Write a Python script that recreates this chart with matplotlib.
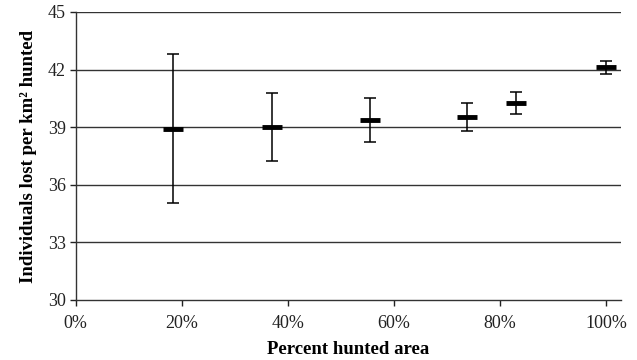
import matplotlib
matplotlib.use("Agg")
import matplotlib.pyplot as plt
from matplotlib.ticker import FuncFormatter

pct_hunted = [0.184, 0.369, 0.555, 0.738, 0.830, 1.0]
mean_lost = [38.93, 39.02, 39.38, 39.55, 40.24, 42.12]
upper = [42.81, 40.80, 40.50, 40.28, 40.83, 42.46]
lower = [35.07, 37.22, 38.25, 38.82, 39.69, 41.77]
y_ticks = [30, 33, 36, 39, 42, 45]
x_ticks = [0, 0.2, 0.4, 0.6, 0.8, 1.0]

plt.rcParams['font.family'] = ['Liberation Serif', 'DejaVu Serif']

fig = plt.figure(figsize=(6.37, 3.6), dpi=100)
ax = fig.add_axes([0.119, 0.1667, 0.856, 0.80])

for yv in y_ticks[1:]:
    ax.axhline(yv, color='#333333', lw=1.0, zorder=1)

yerr = [[m - l for m, l in zip(mean_lost, lower)], [u - m for m, u in zip(mean_lost, upper)]]
ax.errorbar(pct_hunted, mean_lost, yerr=yerr, fmt='none', ecolor='black',
            elinewidth=1.1, capsize=4, capthick=1.1, zorder=3)
ax.plot(pct_hunted, mean_lost, linestyle='none', marker='_', markersize=15,
        markeredgewidth=3.5, color='black', zorder=4)

ax.set_xlim(0, 1.028)
ax.set_ylim(30, 45)
ax.set_xticks(x_ticks)
ax.set_yticks(y_ticks)
ax.xaxis.set_major_formatter(FuncFormatter(lambda v, p: f"{v*100:.0f}%"))
ax.tick_params(axis='both', labelsize=13, direction='out', length=4, width=1, colors='#222222')
ax.tick_params(axis='x', pad=7)
ax.tick_params(axis='y', pad=3)

for s in ['top', 'right']:
    ax.spines[s].set_visible(False)
for s in ['left', 'bottom']:
    ax.spines[s].set_color('#333333')
    ax.spines[s].set_linewidth(1.0)

ax.set_xlabel('Percent hunted area', fontsize=13.5, fontweight='bold', labelpad=6)
ax.set_ylabel('Individuals lost per km\u00b2 hunted', fontsize=13.5, fontweight='bold', labelpad=8)

fig.savefig('out.png', dpi=100)
